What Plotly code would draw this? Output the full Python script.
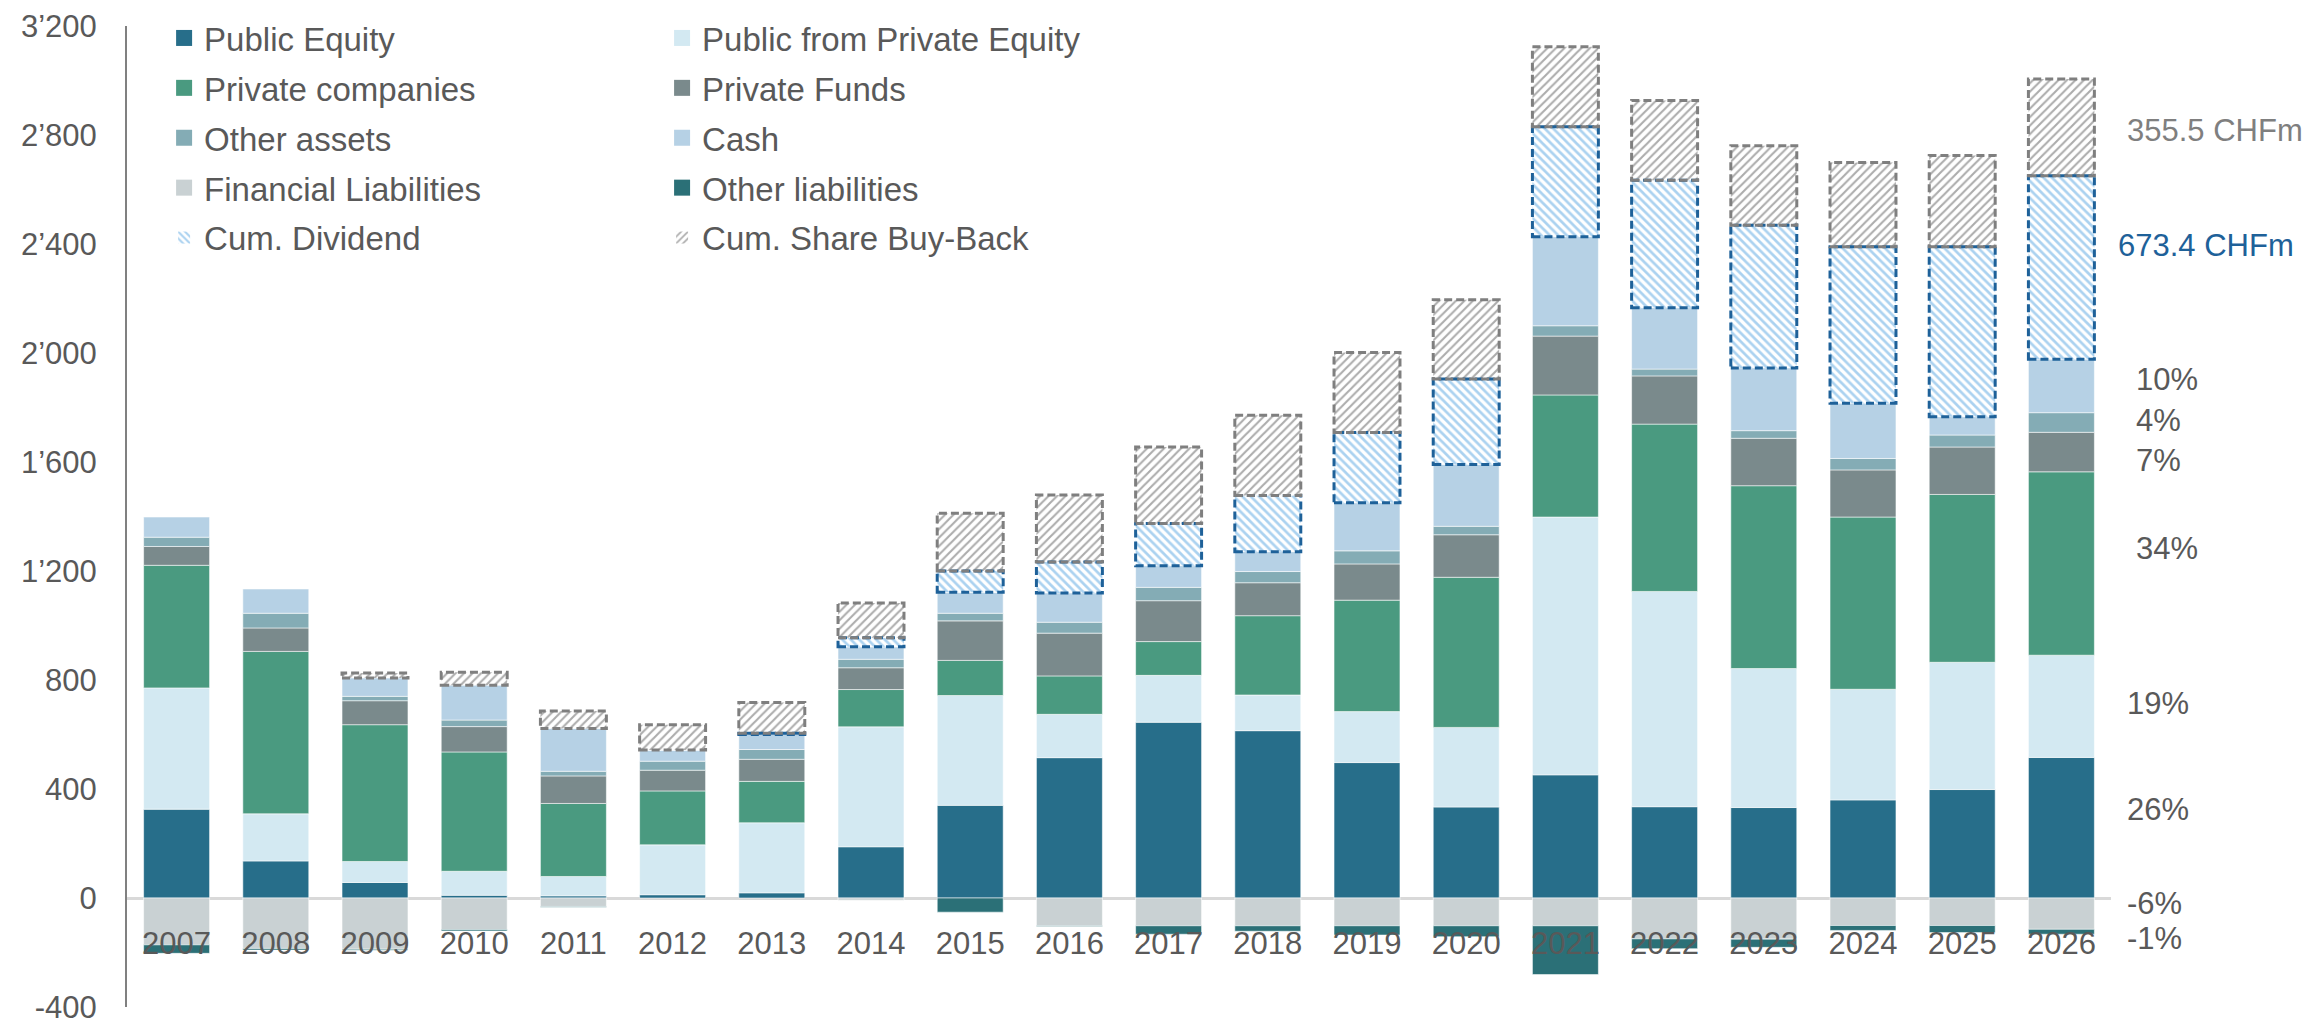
import plotly.graph_objects as go

# Net asset composition per year (CHFm)
years = [str(y) for y in range(2007, 2027)]

public_equity = [326, 136, 57, 10, 8, 12, 19, 188, 340, 515, 645, 614, 497, 334, 452, 335, 332, 360, 398, 516]
public_from_pe = [445, 173, 77, 88, 71, 183, 257, 440, 403, 159, 172, 131, 187, 292, 946, 790, 510, 406, 467, 375]
private_companies = [450, 596, 502, 438, 268, 198, 152, 137, 129, 141, 124, 291, 409, 551, 448, 614, 671, 632, 616, 673]
private_funds = [69, 86, 88, 93, 101, 76, 81, 80, 145, 157, 150, 121, 133, 156, 216, 177, 174, 173, 174, 145]
other_assets = [34, 54, 16, 24, 17, 33, 36, 31, 28, 40, 49, 41, 48, 31, 38, 25, 28, 42, 44, 72]
cash = [74, 89, 67, 128, 157, 41, 55, 46, 77, 107, 79, 73, 176, 227, 327, 225, 230, 203, 67, 196]
financial_liabilities = [-172, -185, -188, -116, -31, 0, 0, -8, 0, -102, -102, -102, -102, -102, -102, -150, -151, -101, -101, -115]
other_liabilities = [-31, -6, -4, -5, -3, 0, 0, 0, -52, -3, -31, -20, -34, -40, -179, -36, -30, -18, -26, -18]
cum_dividend = [0, 0, 0, 0, 0, 0, 5, 33, 78, 114, 155, 206, 258, 314, 403, 468, 524, 574, 624, 673.4]
cum_buyback = [0, 0, 19, 47, 64, 93, 112, 128, 212, 246, 281, 295, 294, 290, 294, 293, 292, 309, 335, 355.5]

y_ticks = list(range(-400, 3201, 400))

TEXT = '#595959'
AXIS_FONT = dict(family='Liberation Sans, Arial, sans-serif', size=31, color=TEXT)
LEGEND_FONT = dict(family='Liberation Sans, Arial, sans-serif', size=33, color=TEXT)
SEG_LINE = dict(color='rgba(255,255,255,0.55)', width=1)

solid_series = [
    ('Public Equity', public_equity, '#276e8a', 'legend'),
    ('Public from Private Equity', public_from_pe, '#d3e9f2', 'legend2'),
    ('Private companies', private_companies, '#4a9a80', 'legend'),
    ('Private Funds', private_funds, '#7a8a8c', 'legend2'),
    ('Other assets', other_assets, '#84acb5', 'legend'),
    ('Cash', cash, '#b6d1e5', 'legend2'),
    ('Financial Liabilities', financial_liabilities, '#c9d1d3', 'legend'),
    ('Other liabilities', other_liabilities, '#2b7077', 'legend2'),
]

fig = go.Figure()

for name, vals, color, leg in solid_series:
    fig.add_trace(go.Bar(
        x=years, y=vals, name=name,
        marker=dict(color=color, line=SEG_LINE),
        legend=leg, legendgroup=name, showlegend=False,
    ))
    # legend entry with a larger square swatch
    fig.add_trace(go.Scatter(
        x=[None], y=[None], mode='markers', name=name,
        marker=dict(symbol='square', size=18, color=color),
        legend=leg, legendgroup=name, hoverinfo='skip',
    ))

DIV_BORDER = '#1e6199'
BB_BORDER = '#7f7f7f'

fig.add_trace(go.Bar(
    x=years, y=cum_dividend, name='Cum. Dividend',
    marker=dict(color='white', line=dict(width=0),
                pattern=dict(shape='\\', fgcolor='#58a6e2', bgcolor='white', size=6, solidity=0.45)),
    legend='legend', legendgroup='div',
))
fig.add_trace(go.Bar(
    x=years, y=cum_buyback, name='Cum. Share Buy-Back',
    marker=dict(color='white', line=dict(width=0),
                pattern=dict(shape='/', fgcolor='#5a5a5a', bgcolor='white', size=6, solidity=0.35)),
    legend='legend2', legendgroup='bb',
))

# dashed outlines of the dividend / buy-back blocks, taken from the data
bargap = 0.335
half = (1 - bargap) / 2
assets = [sum(v) for v in zip(public_equity, public_from_pe, private_companies,
                               private_funds, other_assets, cash)]
for i in range(len(years)):
    lo = assets[i]
    if cum_dividend[i] > 0:
        fig.add_shape(type='rect', xref='x', yref='y', x0=i - half, x1=i + half,
                      y0=lo, y1=lo + cum_dividend[i],
                      line=dict(color=DIV_BORDER, width=3, dash='8px,4px'))
    lo += cum_dividend[i]
    if cum_buyback[i] > 0:
        fig.add_shape(type='rect', xref='x', yref='y', x0=i - half, x1=i + half,
                      y0=lo, y1=lo + cum_buyback[i],
                      line=dict(color=BB_BORDER, width=3, dash='8px,4px'))

# right-hand labels for the last year
last_total = assets[-1]
share_vals = [public_equity[-1], public_from_pe[-1], private_companies[-1], private_funds[-1],
              other_assets[-1], cash[-1], financial_liabilities[-1], other_liabilities[-1]]
share_label_y = [326, 715, 1282, 1607, 1754, 1901, -22, -150]
share_label_shift = [14, 14, 23, 23, 23, 23, 14, 14]
for v, yy, sh in zip(share_vals, share_label_y, share_label_shift):
    fig.add_annotation(x=1, xref='paper', y=yy, yref='y', xanchor='left', yanchor='middle',
                       xshift=sh, showarrow=False, text=f'{round(100 * v / last_total)}%',
                       font=AXIS_FONT)

fig.add_annotation(x=1, xref='paper', y=2818, yref='y', xanchor='left', yanchor='middle',
                   xshift=14, showarrow=False, text=f'{cum_buyback[-1]:.1f} CHFm',
                   font=dict(AXIS_FONT, color='#7f7f7f'))
fig.add_annotation(x=1, xref='paper', y=2393, yref='y', xanchor='left', yanchor='middle',
                   xshift=5, showarrow=False, text=f'{cum_dividend[-1]:.1f} CHFm',
                   font=dict(AXIS_FONT, color=DIV_BORDER))

legend_style = dict(xanchor='left', yanchor='top', y=1.0, font=LEGEND_FONT,
                    bgcolor='rgba(0,0,0,0)', tracegroupgap=4, traceorder='grouped')

# the page adds an 8px body margin, so the figure is sized to fit inside it
fig.update_layout(
    width=2304, height=1017,
    margin=dict(l=119, r=201, t=2, b=18, autoexpand=False),
    barmode='relative', bargap=bargap,
    plot_bgcolor='white', paper_bgcolor='white',
    legend=dict(legend_style, x=0.0187),
    legend2=dict(legend_style, x=0.2697),
    xaxis=dict(type='category', anchor='free', position=0.10933, showline=False,
               showgrid=False, ticks='', tickfont=AXIS_FONT, ticklabelstandoff=24,
               automargin=False, ticklabeloverflow='allow'),
    yaxis=dict(range=[-400, 3200], domain=[0, 0.98395], tickvals=y_ticks,
               ticktext=[f'{v:,}'.replace(',', '\u2019') for v in y_ticks],
               showgrid=False, zeroline=True, zerolinecolor='#d9d9d9', zerolinewidth=3,
               showline=True, linecolor='#808080', linewidth=2, ticks='',
               tickfont=AXIS_FONT, ticklabelstandoff=22, layer='above traces',
               automargin=False, ticklabeloverflow='allow'),
)

fig.write_html('out.html')
